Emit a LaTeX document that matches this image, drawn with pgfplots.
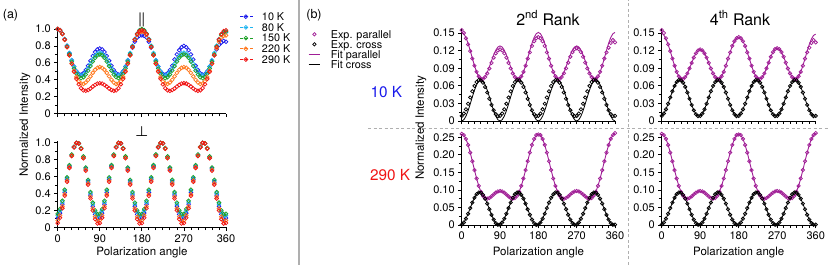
\documentclass[border=0pt]{standalone}
\usepackage{fontspec}
\setmainfont{TeX Gyre Heros}
\usepackage{pgfplots}
\usepackage{pgfplotstable}
\pgfplotsset{compat=1.18}
\definecolor{cA}{RGB}{25,25,235}
\definecolor{cB}{RGB}{30,180,240}
\definecolor{cC}{RGB}{30,160,40}
\definecolor{cD}{RGB}{255,120,30}
\definecolor{cE}{RGB}{240,20,20}
\definecolor{pur}{RGB}{160,30,150}
\definecolor{sepg}{RGB}{175,175,175}
\newcommand{\tf}{\fontsize{11bp}{12bp}\selectfont}
\newcommand{\lf}{\fontsize{11.5bp}{13bp}\selectfont}
\newcommand{\gf}{\fontsize{10.8bp}{11bp}\selectfont}

\pgfplotstableread{
th B C G O R
0 1.000 1.000 1.000 1.000 1.000
5 0.986 0.986 0.985 0.985 0.985
10 0.944 0.945 0.942 0.940 0.942
15 0.880 0.882 0.876 0.872 0.874
20 0.801 0.803 0.793 0.785 0.787
25 0.714 0.717 0.702 0.689 0.690
30 0.630 0.632 0.613 0.593 0.590
35 0.556 0.557 0.534 0.505 0.495
40 0.501 0.499 0.472 0.433 0.412
45 0.468 0.462 0.434 0.382 0.347
50 0.461 0.450 0.420 0.355 0.301
55 0.478 0.461 0.431 0.351 0.276
60 0.515 0.492 0.463 0.368 0.270
65 0.566 0.537 0.509 0.400 0.279
70 0.625 0.589 0.563 0.440 0.297
75 0.681 0.639 0.616 0.482 0.320
80 0.728 0.682 0.660 0.518 0.340
85 0.759 0.710 0.690 0.542 0.355
90 0.770 0.720 0.700 0.550 0.360
95 0.759 0.710 0.690 0.542 0.355
100 0.728 0.682 0.660 0.518 0.340
105 0.681 0.639 0.616 0.482 0.320
110 0.625 0.589 0.563 0.440 0.297
115 0.566 0.537 0.509 0.400 0.279
120 0.515 0.492 0.463 0.368 0.270
125 0.478 0.461 0.431 0.351 0.276
130 0.461 0.450 0.420 0.355 0.301
135 0.468 0.462 0.434 0.382 0.347
140 0.501 0.499 0.472 0.433 0.412
145 0.556 0.557 0.534 0.505 0.495
150 0.630 0.632 0.613 0.593 0.590
155 0.700 0.717 0.702 0.689 0.690
160 0.780 0.803 0.793 0.785 0.787
165 0.850 0.882 0.876 0.872 0.874
170 0.900 0.945 0.942 0.930 0.940
175 0.920 0.986 0.985 0.960 0.975
180 0.925 0.990 1.000 0.970 0.985
185 0.920 0.986 0.985 0.960 0.975
190 0.900 0.945 0.942 0.930 0.940
195 0.850 0.882 0.876 0.872 0.874
200 0.780 0.803 0.793 0.785 0.787
205 0.700 0.717 0.702 0.689 0.690
210 0.630 0.632 0.613 0.593 0.590
215 0.556 0.557 0.534 0.505 0.495
220 0.501 0.499 0.472 0.433 0.412
225 0.468 0.462 0.434 0.382 0.347
230 0.461 0.450 0.420 0.355 0.301
235 0.478 0.461 0.431 0.351 0.276
240 0.515 0.492 0.463 0.368 0.270
245 0.566 0.537 0.509 0.400 0.279
250 0.640 0.589 0.563 0.440 0.297
255 0.700 0.639 0.616 0.482 0.320
260 0.750 0.682 0.660 0.518 0.340
265 0.785 0.710 0.690 0.542 0.355
270 0.800 0.720 0.700 0.550 0.360
275 0.785 0.710 0.690 0.542 0.355
280 0.750 0.682 0.660 0.518 0.340
285 0.700 0.639 0.616 0.482 0.320
290 0.640 0.589 0.563 0.440 0.297
295 0.566 0.537 0.509 0.400 0.279
300 0.515 0.492 0.463 0.368 0.270
305 0.478 0.461 0.431 0.351 0.276
310 0.461 0.450 0.420 0.355 0.301
315 0.468 0.462 0.434 0.382 0.347
320 0.501 0.499 0.472 0.433 0.412
325 0.556 0.557 0.534 0.505 0.495
330 0.620 0.632 0.613 0.593 0.590
335 0.690 0.717 0.702 0.689 0.690
340 0.760 0.803 0.793 0.770 0.787
345 0.810 0.880 0.870 0.850 0.874
350 0.840 0.930 0.930 0.900 0.940
355 0.860 0.955 0.960 0.920 0.975
360 0.850 0.960 0.970 0.925 0.985
}\parA

\pgfplotstableread{
th B C G O R
0 0.110 0.139 0.159 0.080 0.050
5 0.168 0.196 0.215 0.141 0.113
10 0.273 0.297 0.313 0.249 0.225
15 0.411 0.431 0.444 0.391 0.372
20 0.566 0.580 0.590 0.551 0.537
25 0.719 0.728 0.734 0.709 0.700
30 0.851 0.856 0.859 0.846 0.841
35 0.947 0.949 0.950 0.946 0.944
40 0.996 0.996 0.996 0.996 0.995
45 0.990 0.990 0.991 0.990 0.990
50 0.932 0.934 0.935 0.929 0.927
55 0.827 0.833 0.837 0.821 0.815
60 0.689 0.699 0.706 0.679 0.668
65 0.534 0.550 0.560 0.519 0.503
70 0.381 0.402 0.416 0.361 0.340
75 0.249 0.274 0.291 0.224 0.199
80 0.153 0.181 0.200 0.124 0.096
85 0.104 0.134 0.154 0.075 0.045
90 0.110 0.139 0.159 0.080 0.050
95 0.168 0.196 0.215 0.141 0.113
100 0.273 0.297 0.313 0.249 0.225
105 0.411 0.431 0.444 0.391 0.372
110 0.566 0.580 0.590 0.551 0.537
115 0.719 0.728 0.734 0.709 0.700
120 0.851 0.856 0.859 0.846 0.841
125 0.947 0.949 0.950 0.946 0.944
130 0.996 0.996 0.996 0.996 0.995
135 0.990 0.990 0.991 0.990 0.990
140 0.932 0.934 0.935 0.929 0.927
145 0.827 0.833 0.837 0.821 0.815
150 0.689 0.699 0.706 0.679 0.668
155 0.534 0.550 0.560 0.519 0.503
160 0.381 0.402 0.416 0.361 0.340
165 0.249 0.274 0.291 0.224 0.199
170 0.153 0.181 0.200 0.124 0.096
175 0.104 0.134 0.154 0.075 0.045
180 0.110 0.139 0.159 0.080 0.050
185 0.168 0.196 0.215 0.141 0.113
190 0.273 0.297 0.313 0.249 0.225
195 0.411 0.431 0.444 0.391 0.372
200 0.566 0.580 0.590 0.551 0.537
205 0.719 0.728 0.734 0.709 0.700
210 0.851 0.856 0.859 0.846 0.841
215 0.947 0.949 0.950 0.946 0.944
220 0.996 0.996 0.996 0.996 0.995
225 0.990 0.990 0.991 0.990 0.990
230 0.932 0.934 0.935 0.929 0.927
235 0.827 0.833 0.837 0.821 0.815
240 0.689 0.699 0.706 0.679 0.668
245 0.534 0.550 0.560 0.519 0.503
250 0.381 0.402 0.416 0.361 0.340
255 0.249 0.274 0.291 0.224 0.199
260 0.153 0.181 0.200 0.124 0.096
265 0.104 0.134 0.154 0.075 0.045
270 0.110 0.139 0.159 0.080 0.050
275 0.168 0.196 0.215 0.141 0.113
280 0.273 0.297 0.313 0.249 0.225
285 0.411 0.431 0.444 0.391 0.372
290 0.566 0.580 0.590 0.551 0.537
295 0.719 0.728 0.734 0.709 0.700
300 0.851 0.856 0.859 0.846 0.841
305 0.947 0.949 0.950 0.946 0.944
310 0.996 0.996 0.996 0.996 0.995
315 0.990 0.990 0.991 0.990 0.990
320 0.932 0.934 0.935 0.929 0.927
325 0.827 0.833 0.837 0.821 0.815
330 0.689 0.699 0.706 0.679 0.668
335 0.534 0.550 0.560 0.519 0.503
340 0.381 0.402 0.416 0.361 0.340
345 0.249 0.274 0.291 0.224 0.199
350 0.153 0.181 0.200 0.124 0.096
355 0.104 0.134 0.154 0.075 0.045
360 0.110 0.139 0.159 0.080 0.050
}\crossA

\pgfplotstableread{
th pe ce ptwo ctwo pfour pw cw
0 0.1550 0.0087 0.1510 0.0000 0.1500 0.2600 0.0010
5 0.1500 0.0127 0.1487 0.0021 0.1465 0.2563 0.0071
10 0.1410 0.0199 0.1423 0.0082 0.1400 0.2453 0.0179
15 0.1306 0.0294 0.1325 0.0175 0.1306 0.2282 0.0321
20 0.1190 0.0401 0.1202 0.0289 0.1190 0.2064 0.0481
25 0.1064 0.0506 0.1070 0.0411 0.1064 0.1818 0.0639
30 0.0942 0.0597 0.0943 0.0525 0.0942 0.1566 0.0776
35 0.0838 0.0664 0.0834 0.0618 0.0838 0.1326 0.0876
40 0.0762 0.0697 0.0756 0.0679 0.0762 0.1115 0.0926
45 0.0720 0.0693 0.0715 0.0700 0.0720 0.0949 0.0920
50 0.0716 0.0653 0.0716 0.0679 0.0716 0.0833 0.0859
55 0.0750 0.0581 0.0756 0.0618 0.0750 0.0768 0.0751
60 0.0812 0.0486 0.0828 0.0525 0.0812 0.0750 0.0609
65 0.0896 0.0379 0.0922 0.0411 0.0896 0.0770 0.0449
70 0.0990 0.0274 0.1026 0.0289 0.0990 0.0816 0.0291
75 0.1080 0.0183 0.1125 0.0175 0.1080 0.0870 0.0154
80 0.1154 0.0116 0.1207 0.0082 0.1154 0.0921 0.0054
85 0.1203 0.0083 0.1261 0.0021 0.1203 0.0957 0.0005
90 0.1220 0.0087 0.1280 0.0000 0.1220 0.0970 0.0010
95 0.1203 0.0127 0.1261 0.0021 0.1203 0.0957 0.0071
100 0.1154 0.0199 0.1207 0.0082 0.1154 0.0921 0.0179
105 0.1080 0.0294 0.1125 0.0175 0.1080 0.0870 0.0321
110 0.0990 0.0401 0.1026 0.0289 0.0990 0.0816 0.0481
115 0.0896 0.0506 0.0922 0.0411 0.0896 0.0770 0.0639
120 0.0812 0.0597 0.0828 0.0525 0.0812 0.0750 0.0776
125 0.0750 0.0664 0.0756 0.0618 0.0750 0.0768 0.0876
130 0.0716 0.0697 0.0716 0.0679 0.0716 0.0833 0.0926
135 0.0720 0.0693 0.0715 0.0700 0.0720 0.0949 0.0920
140 0.0762 0.0653 0.0756 0.0679 0.0762 0.1115 0.0859
145 0.0838 0.0581 0.0834 0.0618 0.0838 0.1326 0.0751
150 0.0942 0.0486 0.0943 0.0525 0.0942 0.1566 0.0609
155 0.1064 0.0379 0.1070 0.0411 0.1064 0.1818 0.0449
160 0.1170 0.0274 0.1202 0.0289 0.1170 0.2064 0.0291
165 0.1280 0.0183 0.1325 0.0175 0.1280 0.2282 0.0154
170 0.1360 0.0116 0.1423 0.0082 0.1360 0.2453 0.0054
175 0.1410 0.0083 0.1487 0.0021 0.1410 0.2563 0.0005
180 0.1430 0.0087 0.1510 0.0000 0.1430 0.2580 0.0010
185 0.1410 0.0127 0.1487 0.0021 0.1410 0.2563 0.0071
190 0.1360 0.0199 0.1423 0.0082 0.1360 0.2453 0.0179
195 0.1280 0.0294 0.1325 0.0175 0.1280 0.2282 0.0321
200 0.1170 0.0401 0.1202 0.0289 0.1170 0.2064 0.0481
205 0.1064 0.0506 0.1070 0.0411 0.1064 0.1818 0.0639
210 0.0942 0.0597 0.0943 0.0525 0.0942 0.1566 0.0776
215 0.0838 0.0664 0.0834 0.0618 0.0838 0.1326 0.0876
220 0.0762 0.0697 0.0756 0.0679 0.0762 0.1115 0.0926
225 0.0720 0.0693 0.0715 0.0700 0.0720 0.0949 0.0920
230 0.0716 0.0653 0.0716 0.0679 0.0716 0.0833 0.0859
235 0.0750 0.0581 0.0756 0.0618 0.0750 0.0768 0.0751
240 0.0812 0.0486 0.0828 0.0525 0.0812 0.0750 0.0609
245 0.0896 0.0379 0.0922 0.0411 0.0896 0.0770 0.0449
250 0.0995 0.0274 0.1026 0.0289 0.0995 0.0816 0.0291
255 0.1095 0.0183 0.1125 0.0175 0.1095 0.0870 0.0154
260 0.1174 0.0116 0.1207 0.0082 0.1174 0.0921 0.0054
265 0.1225 0.0083 0.1261 0.0021 0.1225 0.0957 0.0005
270 0.1240 0.0087 0.1280 0.0000 0.1240 0.0970 0.0010
275 0.1225 0.0127 0.1261 0.0021 0.1225 0.0957 0.0071
280 0.1174 0.0199 0.1207 0.0082 0.1174 0.0921 0.0179
285 0.1095 0.0294 0.1125 0.0175 0.1095 0.0870 0.0321
290 0.0995 0.0401 0.1026 0.0289 0.0995 0.0816 0.0481
295 0.0896 0.0506 0.0922 0.0411 0.0896 0.0770 0.0639
300 0.0812 0.0597 0.0828 0.0525 0.0812 0.0750 0.0776
305 0.0750 0.0664 0.0756 0.0618 0.0750 0.0768 0.0876
310 0.0716 0.0697 0.0716 0.0679 0.0716 0.0833 0.0926
315 0.0720 0.0693 0.0715 0.0700 0.0720 0.0949 0.0920
320 0.0762 0.0653 0.0756 0.0679 0.0762 0.1115 0.0859
325 0.0838 0.0581 0.0834 0.0618 0.0838 0.1326 0.0751
330 0.0942 0.0486 0.0943 0.0525 0.0942 0.1566 0.0609
335 0.1064 0.0379 0.1070 0.0411 0.1064 0.1818 0.0449
340 0.1170 0.0274 0.1202 0.0289 0.1190 0.2064 0.0291
345 0.1250 0.0183 0.1325 0.0175 0.1306 0.2282 0.0154
350 0.1330 0.0116 0.1423 0.0082 0.1398 0.2453 0.0054
355 0.1380 0.0083 0.1487 0.0021 0.1459 0.2563 0.0005
360 0.1340 0.0087 0.1510 0.0000 0.1480 0.2620 0.0010
}\parB

\pgfplotsset{
  base/.style={scale only axis, anchor=south west,
    axis x line=bottom, axis y line=left, axis line style={-, line width=0.9pt},
    enlargelimits=false, clip=false, tick align=outside,
    major tick length=3.5pt, minor tick length=2.8pt,
    every tick/.append style={black, line width=0.8pt},
    xmin=0, xmax=360, xtick={0,90,180,270,360}, minor x tick num=5,
    tick label style={font=\tf}, /pgf/number format/assume math mode=true,
    legend cell align=left},
  pa/.style={only marks, mark=o, mark size=1.9pt, mark options={line width=0.75pt},
    legend image code/.code={\draw[##1,densely dashed,line width=0.7pt] (0bp,0bp)--(13.7bp,0bp); \draw[##1,solid] plot coordinates {(5.5bp,0bp)};}},
  pe/.style={only marks, mark=o, mark size=1.7pt, mark options={line width=0.75pt},
    legend image code/.code={\path (0bp,0bp) (11.7bp,0bp); \draw[##1] plot coordinates {(5.7bp,0bp)};}},
  pf/.style={no marks, line width=0.9pt,
    legend image code/.code={\draw[##1] (0bp,0bp)--(11.7bp,0bp);}},
  btop/.style={base, height=92.1bp, ymin=0, ymax=0.157,
    ytick={0,0.03,0.06,0.09,0.12,0.15}, yticklabels={0,0.03,0.06,0.09,0.12,0.15},
    minor y tick num=1, xticklabels={}},
  bbot/.style={base, height=91.2bp, ymin=0, ymax=0.26,
    ytick={0,0.05,0.10,0.15,0.20,0.25}, yticklabels={0,0.05,0.10,0.15,0.20,0.25},
    minor y tick num=1},
}

\begin{document}
\begin{tikzpicture}
\path[use as bounding box] (0bp,0bp) rectangle (830bp,265bp);
% separators
\draw[sepg, line width=1.6bp] (299bp,0bp) -- (299bp,265bp);
\draw[sepg, line width=0.8bp, dash pattern=on 3bp off 2.5bp] (628bp,0bp) -- (628bp,265bp);
\draw[sepg, line width=0.8bp, dash pattern=on 3bp off 2.5bp] (368bp,137bp) -- (830bp,137bp);

% panel (a) top
\begin{axis}[base, at={(57.7bp,151.3bp)}, width=168.3bp, height=86.4bp,
  ymin=0, ymax=1.02, ytick={0,0.2,0.4,0.6,0.8,1}, yticklabels={0,0.2,0.4,0.6,0.8,1.0},
  minor y tick num=1, xticklabels={},
  legend style={at={(axis description cs:1.0832,1.166)}, anchor=north west, draw=none, fill=none,
    inner sep=0pt, outer sep=0pt, row sep=3.2bp, column sep=7.6bp, font=\gf,
    nodes={inner sep=0pt, text height=7.5bp, text depth=0bp}}]
\addplot[pa, cA] table[x=th,y=B]{\parA};
\addplot[pa, cB] table[x=th,y=C]{\parA};
\addplot[pa, cC] table[x=th,y=G]{\parA};
\addplot[pa, cD] table[x=th,y=O]{\parA};
\addplot[pa, cE] table[x=th,y=R]{\parA};
\legend{10 K, 80 K, 150 K, 220 K, 290 K}
\end{axis}

% panel (a) bottom
\begin{axis}[base, at={(57.7bp,37.7bp)}, width=168.3bp, height=86.4bp,
  ymin=0, ymax=1.02, ytick={0,0.2,0.4,0.6,0.8,1}, yticklabels={0,0.2,0.4,0.6,0.8,1.0},
  minor y tick num=1]
\addplot[pa, cA] table[x=th,y=B]{\crossA};
\addplot[pa, cB] table[x=th,y=C]{\crossA};
\addplot[pa, cC] table[x=th,y=G]{\crossA};
\addplot[pa, cD] table[x=th,y=O]{\crossA};
\addplot[pa, cE] table[x=th,y=R]{\crossA};
\end{axis}

% panel (b) 2nd rank top
\begin{axis}[btop, at={(461.7bp,144bp)}, width=153.3bp,
  legend style={at={(axis description cs:-1.0007,0.982)}, anchor=north west, draw=none, fill=none,
    inner sep=0pt, outer sep=0pt, row sep=2.5bp, column sep=10bp, font=\gf,
    nodes={inner sep=0pt, text height=7.5bp, text depth=0bp}}]
\addplot[pe, pur] table[x=th,y=pe]{\parB};
\addplot[pe, black] table[x=th,y=ce]{\parB};
\addplot[pf, pur] table[x=th,y=ptwo]{\parB};
\addplot[pf, black, line width=0.8pt] table[x=th,y=ctwo]{\parB};
\legend{Exp. parallel, Exp. cross, Fit parallel, Fit cross}
\end{axis}

% panel (b) 4th rank top
\begin{axis}[btop, at={(661.7bp,144bp)}, width=154bp]
\addplot[pe, pur] table[x=th,y=pe]{\parB};
\addplot[pe, black] table[x=th,y=ce]{\parB};
\addplot[pf, pur] table[x=th,y=pfour]{\parB};
\addplot[pf, black, line width=0.8pt] table[x=th,y=ce]{\parB};
\end{axis}

% panel (b) 2nd rank bottom
\begin{axis}[bbot, at={(461.7bp,40bp)}, width=153.3bp]
\addplot[pe, pur] table[x=th,y=pw]{\parB};
\addplot[pe, black] table[x=th,y=cw]{\parB};
\addplot[pf, pur] table[x=th,y=pw]{\parB};
\addplot[pf, black, line width=0.8pt] table[x=th,y=cw]{\parB};
\end{axis}

% panel (b) 4th rank bottom
\begin{axis}[bbot, at={(661.7bp,40bp)}, width=154bp]
\addplot[pe, pur] table[x=th,y=pw]{\parB};
\addplot[pe, black] table[x=th,y=cw]{\parB};
\addplot[pf, pur] table[x=th,y=pw]{\parB};
\addplot[pf, black, line width=0.8pt] table[x=th,y=cw]{\parB};
\end{axis}

% texts
\node[font=\fontsize{12.5bp}{14bp}\selectfont] at (10.5bp,250bp) {(a)};
\node[font=\fontsize{12.5bp}{14bp}\selectfont] at (314bp,250bp) {(b)};
\node[font=\fontsize{14bp}{15bp}\selectfont] at (141.7bp,245.5bp) {{\boldmath$\Vert$}};
\node[font=\fontsize{14bp}{15bp}\selectfont] at (141.7bp,133bp) {{\boldmath$\perp$}};
\node[font=\lf, rotate=90] at (25bp,140bp) {Normalized Intensity};
\node[font=\lf, rotate=90] at (421bp,137bp) {Normalized Intensity};
\node[font=\lf, anchor=base] at (142bp,10bp) {Polarization angle};
\node[font=\lf, anchor=base] at (538.4bp,10bp) {Polarization angle};
\node[font=\lf, anchor=base] at (738.7bp,10bp) {Polarization angle};
\node[font=\fontsize{16bp}{18bp}\selectfont] at (548bp,247bp) {2\textsuperscript{nd} Rank};
\node[font=\fontsize{16bp}{18bp}\selectfont] at (740bp,247bp) {4\textsuperscript{th} Rank};
\node[font=\fontsize{15.3bp}{17bp}\selectfont, text=cA, anchor=west] at (367bp,173bp) {10 K};
\node[font=\fontsize{15.3bp}{17bp}\selectfont, text=cE, anchor=west] at (366.5bp,89.7bp) {290 K};
\end{tikzpicture}
\end{document}
